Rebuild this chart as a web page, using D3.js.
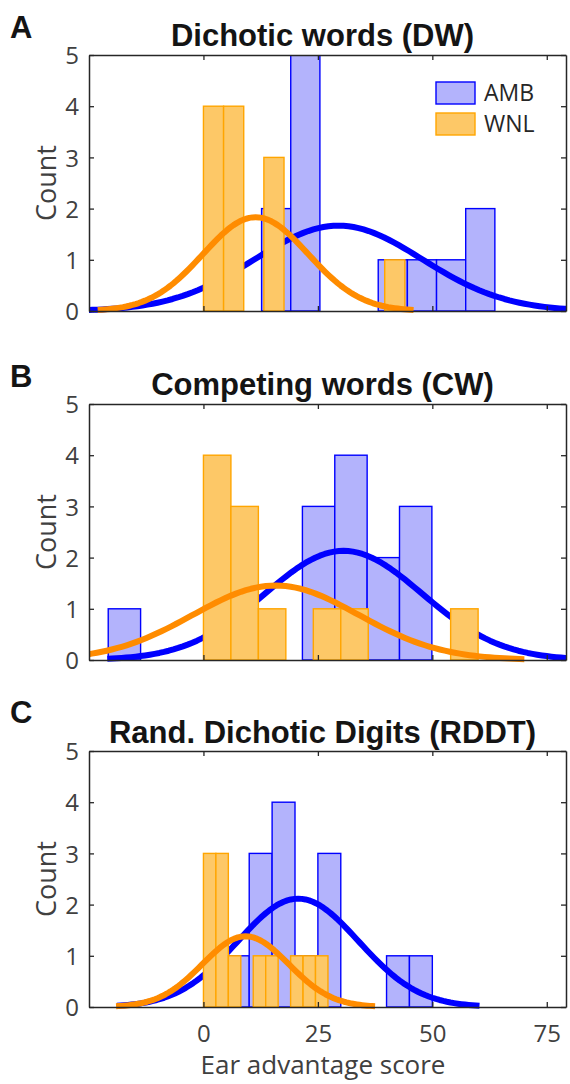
<!DOCTYPE html>
<html><head><meta charset="utf-8">
<script src="https://cdn.jsdelivr.net/npm/d3@7"></script>
<style>
html,body{margin:0;padding:0;background:#fff;}
svg{display:block;}
</style></head>
<body>
<script>
// ---------- data ----------
const panelLetters = ["A", "B", "C"];
const titles = ["Dichotic words (DW)", "Competing words (CW)", "Rand. Dichotic Digits (RDDT)"];
const seriesNames = ["AMB", "WNL"];
// AMB histograms: first bin edge, bin width, counts
const ambStart = [12.7, -20.8, 5];
const ambWidth = [6.37, 7.07, 5];
const ambCounts = [
  [2, 5, 0, 0, 1, 1, 1, 2],
  [1, 0, 0, 0, 0, 0, 3, 4, 2, 3],
  [1, 3, 4, 1, 3, 0, 0, 1, 1]
];
// WNL histograms
const wnlStart = [0, 0, 0];
const wnlWidth = [4.4, 6.0, 2.72];
const wnlCounts = [
  [4, 4, 0, 3, 0, 0, 0, 0, 0, 1],
  [4, 3, 1, 0, 1, 1, 0, 0, 0, 1],
  [3, 3, 1, 0, 1, 1, 0, 1, 1, 1]
];
// normal fits (histfit)
const ambMean = [29.5, 30.6, 20.7];
const ambSD = [18.3, 17.2, 13.2];
const wnlMean = [11.4, 15.8, 9.2];
const wnlSD = [11.5, 18.1, 9.43];
const xTicks = [0, 25, 50, 75];
const yTicks = [0, 1, 2, 3, 4, 5];
const xLabel = "Ear advantage score";
const yLabel = "Count";

// ---------- layout ----------
const W = 570, H = 1084;
const axLeft = 89, axRight = 566;
const axTops = [55, 404, 751];
const letterBase = [38, 387, 723];
const titleBase = [46, 395, 743];
const axH = 256;
const colAMB = {fill: "#b3b3fc", stroke: "#0000ff", line: "#0000ff"};
const colWNL = {fill: "#fdc867", stroke: "#ffa500", line: "#ff8c00"};
const axisCol = "#262626", tickTextCol = "#404040";
const sansText = "'Open Sans', 'Noto Sans', sans-serif";
const boldText = "'Liberation Sans', Arial, sans-serif";

const svg = d3.select("body").append("svg").attr("width", W).attr("height", H);
const x = d3.scaleLinear().domain([-25, 79.2]).range([axLeft, axRight]);

function normalCurve(mu, sd, area) {
  const lo = mu - 3 * sd, hi = mu + 3 * sd;
  return d3.range(101).map(i => {
    const v = lo + (hi - lo) * i / 100;
    const z = (v - mu) / sd;
    return [v, area * Math.exp(-0.5 * z * z) / (sd * Math.sqrt(2 * Math.PI))];
  });
}

panelLetters.forEach((letter, p) => {
  const top = axTops[p];
  const y = d3.scaleLinear().domain([0, 5]).range([top + axH, top]);
  const g = svg.append("g");
  const clipId = "clip" + p;
  g.append("clipPath").attr("id", clipId).append("rect")
    .attr("x", axLeft).attr("y", top).attr("width", axRight - axLeft).attr("height", axH + 3);
  const plot = g.append("g").attr("clip-path", `url(#${clipId})`);

  function drawBars(start, w, counts, col) {
    const bins = counts.map((c, i) => ({x0: start + i * w, x1: start + (i + 1) * w, c}))
      .filter(b => b.c > 0);
    plot.append("g").selectAll("rect").data(bins).join("rect")
      .attr("x", b => x(b.x0)).attr("width", b => x(b.x1) - x(b.x0))
      .attr("y", b => y(b.c)).attr("height", b => y(0) - y(b.c))
      .attr("fill", col.fill).attr("stroke", col.stroke).attr("stroke-width", 1.4);
  }
  const line = d3.line().x(d => x(d[0])).y(d => y(d[1])).curve(d3.curveLinear);
  function drawCurve(mu, sd, counts, w, col) {
    const area = d3.sum(counts) * w;
    plot.append("path").datum(normalCurve(mu, sd, area))
      .attr("d", line).attr("fill", "none").attr("stroke", col.line)
      .attr("stroke-width", 6).attr("stroke-linejoin", "round");
  }
  drawBars(ambStart[p], ambWidth[p], ambCounts[p], colAMB);
  drawCurve(ambMean[p], ambSD[p], ambCounts[p], ambWidth[p], colAMB);
  drawBars(wnlStart[p], wnlWidth[p], wnlCounts[p], colWNL);
  drawCurve(wnlMean[p], wnlSD[p], wnlCounts[p], wnlWidth[p], colWNL);

  // axes box
  const tl = 5;
  const bottomAx = d3.axisBottom(x).tickValues(xTicks).tickSizeInner(-tl).tickSizeOuter(0)
    .tickFormat(p === 2 ? d3.format("d") : () => "");
  const topAx = d3.axisTop(x).tickValues(xTicks).tickSizeInner(-tl).tickSizeOuter(0).tickFormat(() => "");
  const leftAx = d3.axisLeft(y).tickValues(yTicks).tickSizeInner(-tl).tickSizeOuter(0).tickFormat(d3.format("d"));
  const rightAx = d3.axisRight(y).tickValues(yTicks).tickSizeInner(-tl).tickSizeOuter(0).tickFormat(() => "");

  function style(sel) {
    sel.select(".domain").attr("stroke", axisCol).attr("stroke-width", 1.5);
    sel.selectAll(".tick line").attr("stroke", axisCol).attr("stroke-width", 1.3);
    sel.selectAll(".tick text").attr("fill", tickTextCol)
      .attr("font-family", sansText).attr("font-size", 24);
  }
  const gb = g.append("g").attr("transform", `translate(0,${top + axH})`).call(bottomAx).call(style);
  gb.selectAll(".tick text").attr("dy", "0").attr("y", 35);
  g.append("g").attr("transform", `translate(0,${top})`).call(topAx).call(style);
  const gl = g.append("g").attr("transform", `translate(${axLeft},0)`).call(leftAx).call(style);
  gl.selectAll(".tick text").attr("x", -10).attr("dy", "0.36em");
  g.append("g").attr("transform", `translate(${axRight},0)`).call(rightAx).call(style);

  // title
  g.append("text").attr("x", (axLeft + axRight) / 2 - 5).attr("y", titleBase[p])
    .attr("text-anchor", "middle").attr("font-family", boldText).attr("font-weight", "bold")
    .attr("font-size", 31).attr("fill", "#141414").text(titles[p]);
  // panel letter
  g.append("text").attr("x", 10).attr("y", letterBase[p])
    .attr("font-family", boldText).attr("font-weight", "bold")
    .attr("font-size", 31).attr("fill", "#141414").text(letter);
  // y label
  g.append("text").attr("transform", `translate(56,${top + axH / 2}) rotate(-90)`)
    .attr("text-anchor", "middle").attr("font-family", sansText)
    .attr("font-size", 27).attr("fill", tickTextCol).text(yLabel);

  if (p === 0) {
    const leg = g.append("g");
    const cols = [colAMB, colWNL];
    seriesNames.forEach((name, i) => {
      const ly = 82 + i * 31;
      leg.append("rect").attr("x", 436).attr("y", ly).attr("width", 39).attr("height", 22)
        .attr("fill", cols[i].fill).attr("stroke", cols[i].stroke).attr("stroke-width", 1.4);
      leg.append("text").attr("x", 484).attr("y", ly + 11).attr("dy", "0.36em")
        .attr("font-family", sansText).attr("font-size", 23).attr("fill", "#262626").text(name);
    });
  }
  if (p === 2) {
    g.append("text").attr("x", 323).attr("y", 1074)
      .attr("text-anchor", "middle").attr("font-family", sansText)
      .attr("font-size", 26).attr("fill", tickTextCol).text(xLabel);
  }
});
</script>
</body></html>
